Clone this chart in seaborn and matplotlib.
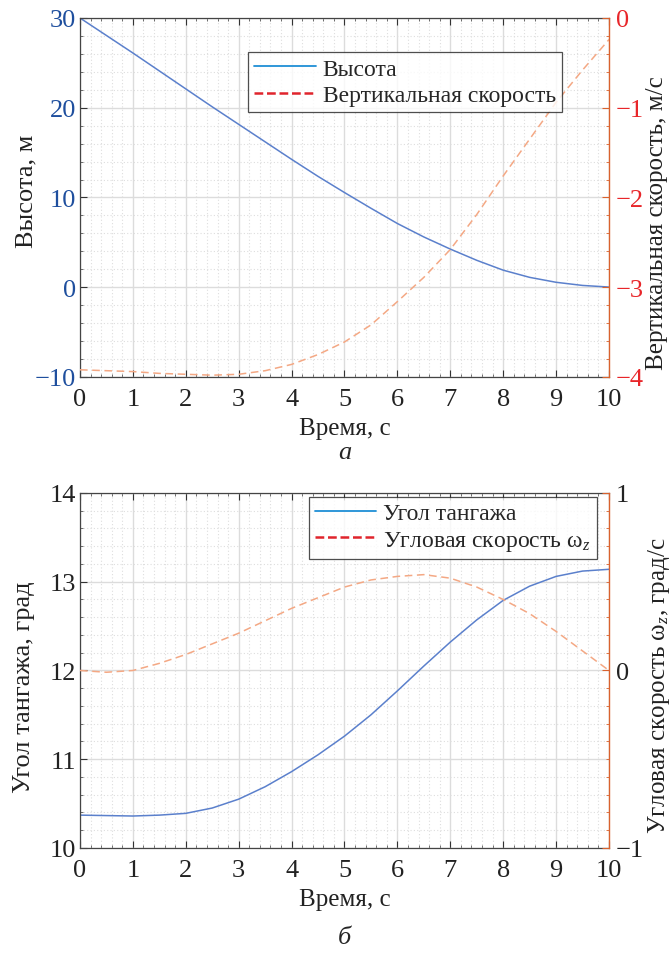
import numpy as np
import pandas as pd
import seaborn as sns
import matplotlib
matplotlib.use("Agg")
import matplotlib.pyplot as plt
from matplotlib.lines import Line2D
from matplotlib.ticker import MultipleLocator

# ---------------- data ----------------
time_s = [0, 0.5, 1, 1.5, 2, 2.5, 3, 3.5, 4, 4.5, 5, 5.5, 6, 6.5, 7, 7.5, 8, 8.5, 9, 9.5, 10]
height_m = [30, 28.05, 26.1, 24.1, 22.1, 20.1, 18.15, 16.2, 14.25, 12.35, 10.55,
            8.8, 7.1, 5.6, 4.25, 3.0, 1.9, 1.1, 0.55, 0.2, 0.02]
vert_speed = [-3.92, -3.93, -3.94, -3.96, -3.97, -3.98, -3.97, -3.93, -3.86, -3.75, -3.61,
              -3.42, -3.16, -2.89, -2.58, -2.19, -1.76, -1.35, -0.94, -0.58, -0.24]
pitch_deg = [10.37, 10.365, 10.36, 10.37, 10.39, 10.45, 10.55, 10.69, 10.86, 11.05, 11.26,
             11.50, 11.77, 12.05, 12.32, 12.57, 12.79, 12.95, 13.06, 13.12, 13.14]
omega_z = [0.0, -0.01, 0.0, 0.04, 0.09, 0.15, 0.21, 0.28, 0.35, 0.41, 0.47,
           0.51, 0.53, 0.54, 0.52, 0.47, 0.40, 0.32, 0.22, 0.11, 0.0]

x_ticks = list(range(0, 11))
top_left_ticks = [-10, 0, 10, 20, 30]
top_right_ticks = [-4, -3, -2, -1, 0]
bot_left_ticks = [10, 11, 12, 13, 14]
bot_right_ticks = [-1, 0, 1]

df = pd.DataFrame({"t": time_s, "h": height_m, "v": vert_speed,
                   "theta": pitch_deg, "wz": omega_z})

# ---------------- style ----------------
sns.set_theme(style="ticks")
plt.rcParams["font.family"] = ["Liberation Serif", "DejaVu Serif"]
plt.rcParams["mathtext.fontset"] = "custom"
plt.rcParams["mathtext.rm"] = "Liberation Serif"
plt.rcParams["mathtext.it"] = "Liberation Serif:italic"
FS = 19
FS_R = 18
FS_LEG = 17
FS_X = 18

LINE_BLUE = "#5b80cc"
LINE_ORANGE = "#f4a884"
LEG_BLUE = "#1f8fd6"
LEG_RED = "#e0242c"
SPINE_R = "#d9622e"
LBL_BLUE = "#1f4f9e"
LBL_RED = "#e8262a"

fig = plt.figure(figsize=(6.71, 9.54), dpi=100)
ax1 = fig.add_axes([0.1192, 0.6038, 0.7884, 0.3763])
ax2 = fig.add_axes([0.1192, 0.1101, 0.7884, 0.3721])


def style_axes(ax, axr, ylim, yticks, yminor, rlim, rticks, rminor, lcol, rcol):
    ax.set_xlim(0, 10)
    ax.set_ylim(*ylim)
    ax.set_xticks(x_ticks)
    ax.set_yticks(yticks)
    ax.xaxis.set_minor_locator(MultipleLocator(0.2))
    ax.yaxis.set_minor_locator(MultipleLocator(yminor))
    axr.set_ylim(*rlim)
    axr.set_yticks(rticks)
    axr.yaxis.set_minor_locator(MultipleLocator(rminor))
    ax.grid(which="major", color="#dcdcdc", linewidth=1.0, linestyle="-")
    ax.grid(which="minor", color="#dedede", linewidth=0.8, linestyle=(0, (1, 2)))
    ax.set_axisbelow(True)
    ax.tick_params(axis="both", which="major", direction="in", length=5,
                   width=0.8, labelsize=FS, color="#333333", top=True)
    ax.tick_params(axis="both", which="minor", direction="in", length=2.5,
                   width=0.6, color="#555555", top=True)
    ax.tick_params(axis="y", which="both", right=False, pad=3)
    ax.tick_params(axis="y", labelcolor=lcol)
    ax.tick_params(axis="x", labelcolor="#222222", pad=8)
    axr.tick_params(axis="y", which="major", direction="in", length=5, width=0.8,
                    labelsize=FS, color=SPINE_R, labelcolor=rcol, pad=5)
    axr.tick_params(axis="y", which="minor", direction="in", length=2.5,
                    width=0.6, color=SPINE_R)
    for s in ["left", "top", "bottom"]:
        ax.spines[s].set_color("#444444")
        ax.spines[s].set_linewidth(0.9)
    axr.spines["right"].set_color(SPINE_R)
    axr.spines["right"].set_linewidth(1.0)
    for s in ["left", "top", "bottom"]:
        axr.spines[s].set_visible(False)
    ax.spines["right"].set_visible(False)
    ax.set_xlabel("Время, с", fontsize=FS_X, color="#222222", labelpad=5)


# ---- top panel ----
ax1r = ax1.twinx()
sns.lineplot(data=df, x="t", y="h", ax=ax1, color=LINE_BLUE, linewidth=1.1)
sns.lineplot(data=df, x="t", y="v", ax=ax1r, color=LINE_ORANGE, linewidth=1.1,
             linestyle=(0, (5, 3)))
style_axes(ax1, ax1r, (-10, 30), top_left_ticks, 2, (-4, 0), top_right_ticks, 0.2,
           LBL_BLUE, LBL_RED)
ax1.set_ylabel("Высота, м", fontsize=FS, color="#222222")
ax1.yaxis.set_label_coords(-0.08, 0.52)
ax1r.set_ylabel("Вертикальная скорость, м/с", fontsize=FS_R, color="#222222")
ax1r.yaxis.set_label_coords(1.07, 0.43)
h1 = [Line2D([], [], color=LEG_BLUE, lw=1.3),
      Line2D([], [], color=LEG_RED, lw=1.8, ls=(0, (3.5, 1.5)))]
leg1 = ax1r.legend(h1, ["Высота", "Вертикальная скорость"], loc="upper left",
                   bbox_to_anchor=(0.318, 0.905), fontsize=FS_LEG, frameon=True,
                   fancybox=False, edgecolor="#222222", handlelength=2.6,
                   handletextpad=0.3, borderpad=0.25, labelspacing=0.2,
                   borderaxespad=0)
leg1.get_frame().set_linewidth(0.9)

# ---- bottom panel ----
ax2r = ax2.twinx()
sns.lineplot(data=df, x="t", y="theta", ax=ax2, color=LINE_BLUE, linewidth=1.1)
sns.lineplot(data=df, x="t", y="wz", ax=ax2r, color=LINE_ORANGE, linewidth=1.1,
             linestyle=(0, (5, 3)))
style_axes(ax2, ax2r, (10, 14), bot_left_ticks, 0.2, (-1, 1), bot_right_ticks, 0.1,
           "#222222", "#222222")
ax2.set_ylabel("Угол тангажа, град", fontsize=FS, color="#222222")
ax2.yaxis.set_label_coords(-0.085, 0.455)
ax2r.set_ylabel(r"Угловая скорость ω$_{\it{z}}$, град/с", fontsize=FS_R,
                color="#222222")
ax2r.yaxis.set_label_coords(1.07, 0.46)
h2 = [Line2D([], [], color=LEG_BLUE, lw=1.3),
      Line2D([], [], color=LEG_RED, lw=1.8, ls=(0, (3.5, 1.5)))]
leg2 = ax2r.legend(h2, ["Угол тангажа", r"Угловая скорость ω$_{\it{z}}$"],
                   loc="upper left", bbox_to_anchor=(0.433, 0.99), fontsize=FS_LEG,
                   frameon=True, fancybox=False, edgecolor="#222222",
                   handlelength=2.6, handletextpad=0.3, borderpad=0.25,
                   labelspacing=0.2, borderaxespad=0)
leg2.get_frame().set_linewidth(0.9)

for a in (ax1, ax2, ax1r, ax2r):
    a.yaxis.set_major_formatter(matplotlib.ticker.FuncFormatter(
        lambda v, p: f"{v:g}".replace("-", "\u2212")))

fig.text(0.514, 0.525, "а", fontsize=FS, style="italic", ha="center", va="center")
fig.text(0.514, 0.017, "б", fontsize=FS, style="italic", ha="center", va="center")

fig.savefig("out.png", dpi=100, facecolor="white")
